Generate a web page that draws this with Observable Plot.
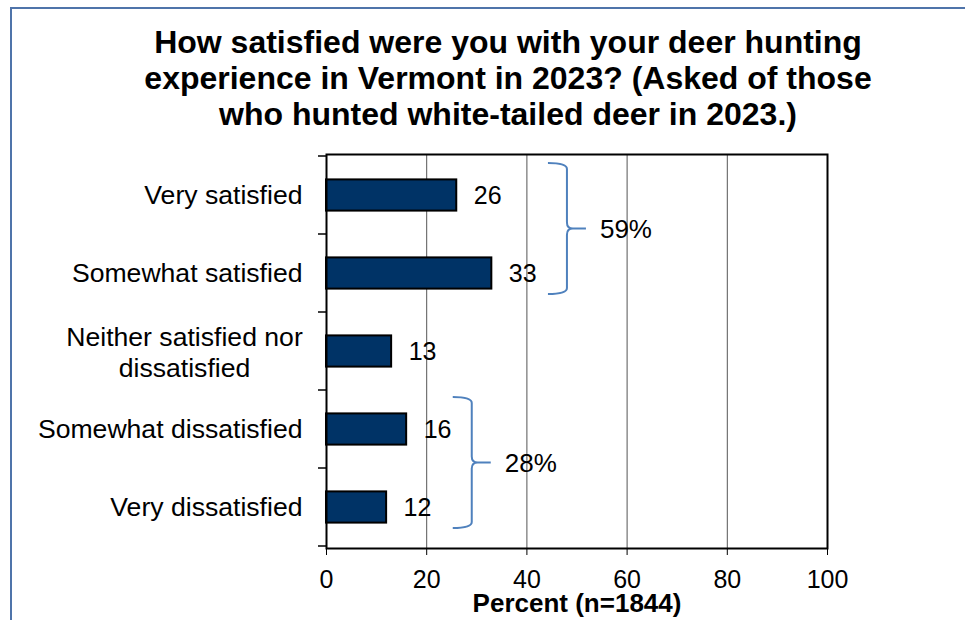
<!DOCTYPE html>
<html>
<head>
<meta charset="utf-8">
<script src="https://cdn.jsdelivr.net/npm/d3@7"></script>
<script src="https://cdn.jsdelivr.net/npm/@observablehq/plot@0.6"></script>
<style>
  html, body { margin: 0; padding: 0; background: #fff; overflow: hidden; }
  #wrap { position: relative; width: 965px; height: 620px; overflow: hidden; font-family: "Liberation Sans", Arial, sans-serif; }
  #deco { position: absolute; left: 10px; top: 7px; width: 1200px; height: 800px; border-left: 2px solid #4f74aa; border-top: 2px solid #4f74aa; }
  #title { position: absolute; top: 24px; left: 58px; width: 900px; text-align: center; font-weight: bold; font-size: 32px; line-height: 36px; color: #000; }
  #chart { position: absolute; left: 0; top: 140px; }
</style>
</head>
<body>
<div id="wrap">
  <div id="deco"></div>
  <div id="title">How satisfied were you with your deer hunting<br>experience in Vermont in 2023? (Asked of those<br>who hunted white-tailed deer in 2023.)</div>
  <div id="chart"></div>
</div>
<script>
// ---- data ----
const categories = ["Very satisfied", "Somewhat satisfied", "Neither satisfied nor\ndissatisfied", "Somewhat dissatisfied", "Very dissatisfied"];
const percents = [26, 33, 13, 16, 12];
const xTicks = [0, 20, 40, 60, 80, 100];
const gridValues = [20, 40, 60, 80];
const axisTitle = "Percent (n=1844)";
const braceLabels = ["59%", "28%"];
const braceFrom = ["Very satisfied", "Somewhat dissatisfied"];
const braceTo = ["Somewhat satisfied", "Very dissatisfied"];
const braceX = [44.3, 25.3];

const rows = categories.map((c, i) => ({cat: c, value: percents[i]}));
const braces = braceLabels.map((l, i) => ({label: l, from: braceFrom[i], to: braceTo[i], x: braceX[i]}));
const singleLine = rows.filter(d => !d.cat.includes("\n"));
const multiLine = rows.filter(d => d.cat.includes("\n"));

function bandInfo(scales, dimensions) {
  const y = scales.y;
  let bw;
  if (typeof y.bandwidth === "function") bw = y.bandwidth();
  else if (typeof y.bandwidth === "number") bw = y.bandwidth;
  else if (scales.scales && scales.scales.y && scales.scales.y.bandwidth != null) bw = scales.scales.y.bandwidth;
  else bw = (dimensions.height - dimensions.marginTop - dimensions.marginBottom) / categories.length;
  return {y, bw};
}

// category boundary ticks on the left axis
function yBoundaryTicks(index, scales, values, dimensions) {
  const {y, bw} = bandInfo(scales, dimensions);
  const g = d3.create("svg:g");
  const x0 = dimensions.marginLeft;
  const ys = categories.map(c => y(c)).concat([y(categories[categories.length - 1]) + bw]);
  for (const yy of ys) {
    g.append("line").attr("x1", x0 - 8).attr("x2", x0).attr("y1", yy).attr("y2", yy)
      .attr("stroke", "black").attr("stroke-width", 1.5);
  }
  return g.node();
}

// curly braces with summary labels
function braceMark(index, scales, values, dimensions) {
  const {y, bw} = bandInfo(scales, dimensions);
  const x = scales.x;
  const g = d3.create("svg:g");
  for (const b of braces) {
    const y1 = y(b.from) + 7;
    const y2 = y(b.to) + bw - 18;
    const mid = (y1 + y2) / 2;
    const x0 = x(b.x), xm = x0 + 19, xt = x0 + 38;
    const r = 6;
    const p = `M${x0},${y1} Q${xm},${y1} ${xm},${y1 + r} L${xm},${mid - r} Q${xm},${mid} ${xm + 6},${mid} L${xt},${mid}` +
              ` M${xm + 6},${mid} Q${xm},${mid} ${xm},${mid + r} L${xm},${y2 - r} Q${xm},${y2} ${x0},${y2}`;
    g.append("path").attr("d", p).attr("fill", "none").attr("stroke", "#4f81bd").attr("stroke-width", 2);
    g.append("text").attr("x", xt + 14).attr("y", mid).attr("dy", "0.35em")
      .attr("text-anchor", "start").attr("font-size", 26).attr("fill", "black").text(b.label);
  }
  return g.node();
}

const chart = Plot.plot({
  width: 965,
  height: 480,
  marginTop: 14,
  marginBottom: 72,
  marginLeft: 326,
  marginRight: 138,
  style: {fontSize: "25px", fontFamily: "'Liberation Sans', Arial, sans-serif", color: "black", background: "transparent", overflow: "visible"},
  x: {domain: [0, 100], ticks: xTicks, tickSize: 7, tickPadding: 15, label: null},
  y: {type: "band", domain: categories, padding: 0, axis: null},
  marks: [
    Plot.ruleX(gridValues, {stroke: "#555", strokeWidth: 1}),
    Plot.barX(rows, {x: "value", y: "cat", fill: "#003366", stroke: "black", strokeWidth: 2, insetTop: 23.4, insetBottom: 23.4}),
    Plot.frame({stroke: "black", strokeWidth: 2}),
    yBoundaryTicks,
    Plot.text(rows, {x: "value", y: "cat", text: d => String(d.value), dx: 17, textAnchor: "start", fontSize: 25, fill: "black"}),
    Plot.text(singleLine, {y: "cat", text: "cat", frameAnchor: "left", dx: -24, textAnchor: "end", fontSize: 26.6, fill: "black"}),
    Plot.text(multiLine, {y: "cat", text: "cat", frameAnchor: "left", dx: -142, textAnchor: "middle", fontSize: 26.6, lineHeight: 1.17, fill: "black"}),
    Plot.text([axisTitle], {text: d => d, frameAnchor: "bottom", dy: 63, fontSize: 26, fontWeight: "bold", fill: "black"}),
    braceMark
  ]
});
document.getElementById("chart").appendChild(chart);
</script>
</body>
</html>
